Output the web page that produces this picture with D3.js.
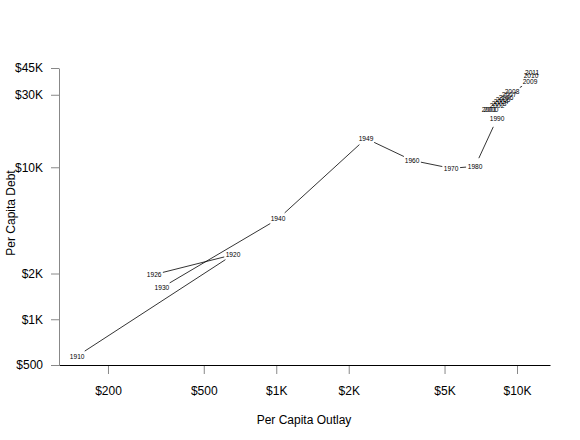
<!DOCTYPE html>
<html><head><meta charset="utf-8">
<script src="https://cdn.jsdelivr.net/npm/d3@7"></script>
<style>body{margin:0;background:#fff}</style>
</head><body><svg id="c" width="580" height="440"></svg>
<script>
const years  = ["1910","1920","1926","1930","1940","1949","1960","1970","1980","1990",
                "2000","2001","2002","2003","2004","2005","2006","2007","2008","2009","2010","2011"];
const outlay = [149, 661, 311, 335, 1017, 2360, 3665, 5325, 6695, 8265,
                7800, 7656, 8262, 8420, 8585, 8750, 9010, 9270, 9530, 11320, 11430, 11550];
const debt   = [573, 2657, 1967, 1618, 4570, 15460, 11100, 9840, 10140, 20890,
                23920, 23920, 25420, 26180, 26990, 27810, 28660, 29980, 31360, 36450, 39910, 41790];
const xTicks = [200, 500, 1000, 2000, 5000, 10000];
const xTickLabels = ["$200", "$500", "$1K", "$2K", "$5K", "$10K"];
const yTicks = [500, 1000, 2000, 10000, 30000, 45000];
const yTickLabels = ["$500", "$1K", "$2K", "$10K", "$30K", "$45K"];

const font = "'Liberation Sans', Arial, sans-serif";
const svg = d3.select("#c");
const x = d3.scaleLog().domain([125.2, 13710]).range([59, 550]);
const y = d3.scaleLog().domain([500, 45000]).range([365, 68]);

// x axis
const gx = svg.append("g").attr("transform", "translate(0,365)")
  .call(d3.axisBottom(x).tickValues(xTicks)
    .tickFormat((d, i) => xTickLabels[i]).tickSize(8).tickSizeOuter(0).tickPadding(13));
gx.select(".domain").attr("stroke", "#000").attr("stroke-width", 1);
gx.selectAll(".tick line").attr("stroke", "#888").attr("transform", "translate(0,1)");
gx.selectAll("text").attr("font-family", font).attr("font-size", 12).attr("fill", "#000");

// y axis
const gy = svg.append("g").attr("transform", "translate(59,0)")
  .call(d3.axisLeft(y).tickValues(yTicks)
    .tickFormat((d, i) => yTickLabels[i]).tickSize(8).tickSizeOuter(0).tickPadding(8));
gy.select(".domain").attr("stroke", "#888").attr("stroke-width", 1);
gy.selectAll(".tick line").attr("stroke", "#888");
gy.selectAll("text").attr("font-family", font).attr("font-size", 12).attr("fill", "#000");

// titles
svg.append("text").attr("x", 304).attr("y", 424).attr("text-anchor", "middle")
  .attr("font-family", font).attr("font-size", 12).text("Per Capita Outlay");
svg.append("text").attr("transform", "translate(11,213) rotate(-90)")
  .attr("text-anchor", "middle").attr("dominant-baseline", "central")
  .attr("font-family", font).attr("font-size", 12).text("Per Capita Debt");

// connecting line with gaps at labels
const pts = years.map((yr, i) => [x(outlay[i]), y(debt[i])]);
const gap = 9;
const g = svg.append("g");
for (let i = 0; i < pts.length - 1; i++) {
  const [x1, y1] = pts[i], [x2, y2] = pts[i + 1];
  const dx = x2 - x1, dy = y2 - y1, L = Math.hypot(dx, dy);
  if (L <= 2 * gap) continue;
  const ux = dx / L, uy = dy / L;
  g.append("line")
    .attr("x1", x1 + ux * gap).attr("y1", y1 + uy * gap)
    .attr("x2", x2 - ux * gap).attr("y2", y2 - uy * gap)
    .attr("stroke", "#000").attr("stroke-width", 0.8);
}

svg.append("g").selectAll("text").data(years).join("text")
  .attr("x", (d, i) => pts[i][0]).attr("y", (d, i) => pts[i][1])
  .attr("text-anchor", "middle").attr("dominant-baseline", "central")
  .attr("font-family", font).attr("font-size", 6.6).attr("fill", "#000")
  .text(d => d);
</script>
</body></html>
